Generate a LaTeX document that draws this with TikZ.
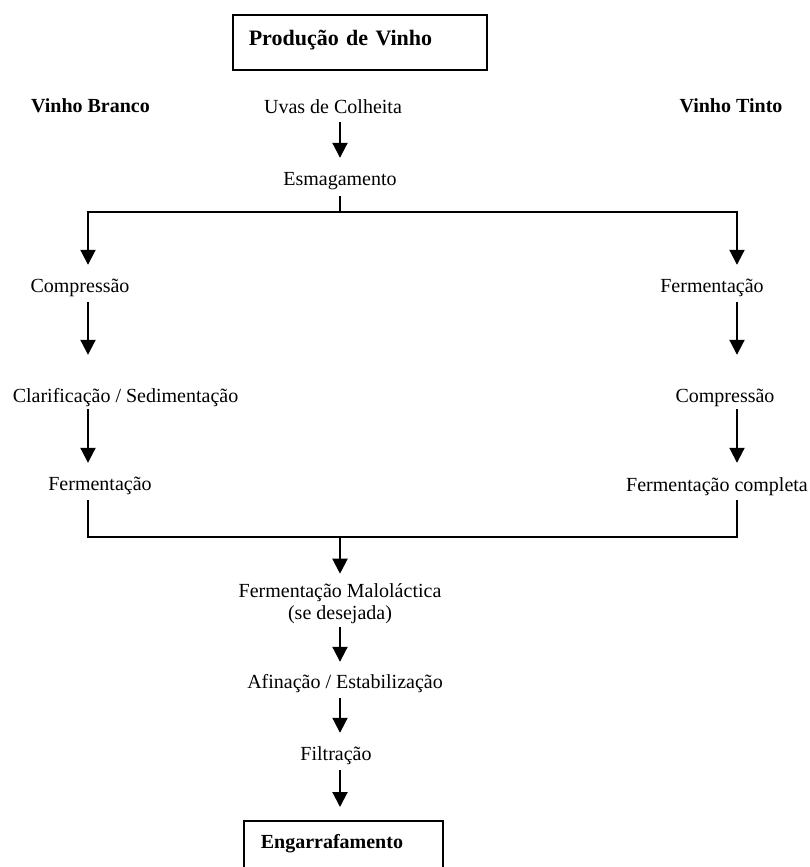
\documentclass[tikz,border=0pt]{standalone}
\usepackage{fontspec}
\setmainfont{Liberation Serif}
\usetikzlibrary{arrows.meta}
\tikzset{
  lbl/.style={inner sep=0pt, text height=14pt, text depth=4pt, font=\fontsize{20}{22}\selectfont},
  blbl/.style={lbl, font=\fontsize{20}{22}\selectfont\bfseries},
  conn/.style={line width=2pt, draw=black},
  arr/.style={conn, -{Triangle[width=15pt,length=15pt]}},
}
\begin{document}
\begin{tikzpicture}[x=1pt,y=-1pt]
\useasboundingbox (0,0) rectangle (809,867);
\clip (0,0) rectangle (809,867);
% boxes
\node[draw, line width=1.6pt, anchor=north west, inner xsep=16pt, inner ysep=16pt,
      text width=222pt, align=left, text height=15pt, text depth=8pt,
      font=\fontsize{22}{24}\selectfont\bfseries] (title) at (232,14) {Produção de Vinho};
\node[draw, line width=1.6pt, anchor=north west, inner xsep=17pt, inner ysep=14pt,
      text width=165pt, align=left, text height=14pt, text depth=38pt,
      font=\fontsize{20}{22}\selectfont\bfseries] (eng) at (243,820) {Engarrafamento};
% headings
\node[blbl] (branco) at (90.5,107) {Vinho Branco};
\node[blbl] (tinto) at (731,107) {Vinho Tinto};
% main column
\node[lbl] (uvas) at (333,108) {Uvas de Colheita};
\node[lbl] (esm) at (340,180) {Esmagamento};
% left column
\node[lbl] (compL) at (80,287) {Compressão};
\node[lbl] (clar) at (125.5,397) {Clarificação / Sedimentação};
\node[lbl] (fermL) at (100,485) {Fermentação};
% right column
\node[lbl] (fermR) at (712,287) {Fermentação};
\node[lbl] (compR) at (725,397) {Compressão};
\node[lbl] (fermC) at (717,486) {Fermentação completa};
% lower column
\node[inner sep=0pt, align=center, font=\fontsize{20}{22}\selectfont] (malo) at (340,604) {Fermentação Maloláctica\\(se desejada)};
\node[lbl] (afin) at (345,683) {Afinação / Estabilização};
\node[lbl] (filt) at (336,755) {Filtração};
% column coordinates
\coordinate (colL) at (88,0);
\coordinate (colR) at (737,0);
\coordinate (colM) at (340,0);
\coordinate (split) at (340,212);
\coordinate (join) at (340,537);
% connectors
\draw[arr, shorten <=5pt, shorten >=13pt] (uvas.south -| colM) -- (esm.north);
\draw[conn, shorten <=7pt] (esm.south) -- (split);
\draw[arr, shorten >=13pt] (split) -| (compL.north -| colL);
\draw[arr, shorten >=13pt] (split) -| (fermR.north -| colR);
\draw[arr, shorten <=6pt, shorten >=33pt] (compL.south -| colL) -- (clar.north -| colL);
\draw[arr, shorten <=3pt, shorten >=13pt] (clar.south -| colL) -- (fermL.north -| colL);
\draw[arr, shorten <=6pt, shorten >=33pt] (fermR.south -| colR) -- (compR.north -| colR);
\draw[arr, shorten <=3pt, shorten >=14pt] (compR.south -| colR) -- (fermC.north -| colR);
\draw[conn, shorten <=6pt, shorten >=5pt] (fermL.south -| colL) |- (join) -| (fermC.south -| colR);
\draw[arr, shorten >=10pt] (join) -- (malo.north);
\draw[arr, shorten <=3pt, shorten >=12pt] (malo.south) -- (afin.north -| colM);
\draw[arr, shorten <=6pt, shorten >=13pt] (afin.south -| colM) -- (filt.north -| colM);
\draw[arr, shorten <=6pt, shorten >=13pt] (filt.south -| colM) -- (eng.north -| colM);
\end{tikzpicture}
\end{document}
